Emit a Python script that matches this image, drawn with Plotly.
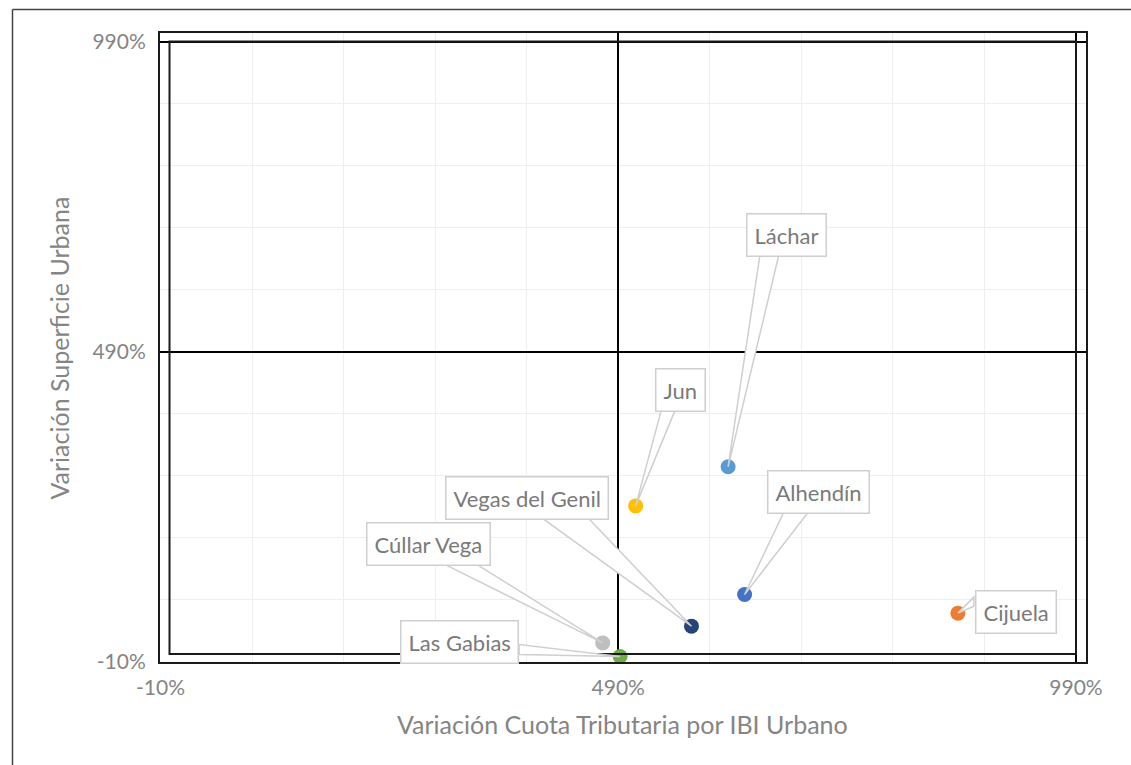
import plotly.graph_objects as go

# ---- data (percent values) ----
municipios = ["Jun", "Láchar", "Alhendín", "Vegas del Genil", "Cijuela", "Cúllar Vega", "Las Gabias"]
var_cuota = [509, 610, 628, 570, 861, 473, 492]          # x: Variación Cuota Tributaria por IBI Urbano (%)
var_superficie = [241, 304, 98, 47, 68, 20, -2]          # y: Variación Superficie Urbana (%)
colores = ["#FFC000", "#5B9BD5", "#4472C4", "#264478", "#ED7D31", "#BFBFBF", "#70AD47"]
tick_vals = [-10, 490, 990]
tick_text = ["-10%", "490%", "990%"]
x_title = "Variación Cuota Tributaria por IBI Urbano"
y_title = "Variación Superficie Urbana"

# ---- label callout layout (screen pixels relative to the point; y down) ----
callouts = {
    "Jun":             dict(box=(45, -116), base=[(26, -97), (40, -97)]),
    "Láchar":          dict(box=(58, -232), base=[(32, -213), (51, -213)]),
    "Alhendín":        dict(box=(74, -103), base=[(40, -84), (65, -84)]),
    "Vegas del Genil": dict(box=(-164, -128), base=[(-152, -110), (-105, -110)]),
    "Cijuela":         dict(box=(58, -1), base=[(16, -16), (16, -7)]),
    "Cúllar Vega":     dict(box=(-174, -99), base=[(-163, -81), (-130, -81)]),
    "Las Gabias":      dict(box=(-161, -15), base=[(-101, -12), (-101, -2)]),
}

FONT = "Lato, 'Open Sans', sans-serif"
GRAY_TXT = "#858585"
LABEL_TXT = "#7A7A7A"
FRAME = "#1A1A1A"

W, H = 1131, 765
ML, MR, MT, MB = 160, 45, 33, 103
PW, PH = W - ML - MR, H - MT - MB

x_px_per_unit = 915.5 / 1000
y_px_per_unit = 620 / 1000
x_min = -10 - 0.5 / x_px_per_unit
x_max = x_min + PW / x_px_per_unit
y_min = -10 - 0.5 / y_px_per_unit
y_max = y_min + PH / y_px_per_unit

fig = go.Figure()
fig.add_trace(go.Scatter(
    x=var_cuota, y=var_superficie, mode="markers",
    marker=dict(size=15, color=colores, line=dict(width=0)),
    text=municipios, hoverinfo="text", showlegend=False,
))

shapes = []
annotations = []

def px_x(px):
    return (px - ML) / PW

def px_y(py):
    return (H - MB - py) / PH

# inner frame
shapes.append(dict(type="rect", xref="paper", yref="paper",
                   x0=px_x(169.5), x1=px_x(1076), y0=px_y(654), y1=px_y(41.5),
                   line=dict(color=FRAME, width=2), layer="above"))
# outer image frame (left and top edges)
shapes.append(dict(type="line", xref="paper", yref="paper", x0=px_x(12.5), x1=px_x(12.5),
                   y0=px_y(9.5), y1=px_y(800), line=dict(color="#444444", width=1.5)))
shapes.append(dict(type="line", xref="paper", yref="paper", x0=px_x(12.5), x1=px_x(1200),
                   y0=px_y(9.5), y1=px_y(9.5), line=dict(color="#444444", width=1.5)))

for name, xv, yv in zip(municipios, var_cuota, var_superficie):
    c = callouts[name]
    (b1x, b1y), (b2x, b2y) = c["base"]
    path = f"M 0 0 L {b1x} {-b1y} L {b2x} {-b2y} Z"
    shapes.append(dict(type="path", xref="x", yref="y", xsizemode="pixel", ysizemode="pixel",
                       xanchor=xv, yanchor=yv, path=path,
                       fillcolor="white", line=dict(color="#CFCFCF", width=1.5), layer="above"))
    bx, by = c["box"]
    annotations.append(dict(x=xv, y=yv, xref="x", yref="y", text=name, showarrow=False,
                            xanchor="center", yanchor="middle", xshift=bx, yshift=-by,
                            font=dict(family=FONT, size=22, color=LABEL_TXT),
                            bgcolor="white", bordercolor="#CFCFCF", borderwidth=1.5, borderpad=7))

# axis titles
annotations.append(dict(x=px_x(622), y=px_y(724), xref="paper", yref="paper", text=x_title,
                        showarrow=False, xanchor="center", yanchor="middle",
                        font=dict(family=FONT, size=25, color=GRAY_TXT)))
annotations.append(dict(x=px_x(58.5), y=px_y(348), xref="paper", yref="paper", text=y_title,
                        showarrow=False, xanchor="center", yanchor="middle", textangle=-90,
                        font=dict(family=FONT, size=25, color=GRAY_TXT)))

# major gridlines (at -10, 490, 990) act as the black quadrant lines
axis_common = dict(
    showgrid=True, gridcolor="#000000", gridwidth=2,
    zeroline=False, showline=True, mirror=True,
    linecolor=FRAME, linewidth=2, ticks="",
    tickvals=tick_vals, ticktext=tick_text,
    tickfont=dict(family=FONT, size=21, color=GRAY_TXT),
)

fig.update_layout(
    width=W, height=H,
    margin=dict(l=ML, r=MR, t=MT, b=MB),
    paper_bgcolor="white", plot_bgcolor="white",
    xaxis=dict(range=[x_min, x_max],
               minor=dict(tick0=-10, dtick=100, showgrid=True, gridcolor="#EEEEEE", gridwidth=1),
               ticklabelstandoff=6, **axis_common),
    yaxis=dict(range=[y_min, y_max],
               minor=dict(tick0=-10, dtick=100, showgrid=True, gridcolor="#EEEEEE", gridwidth=1),
               ticklabelstandoff=8, **axis_common),
    shapes=shapes, annotations=annotations,
    font=dict(family=FONT),
)

fig.write_html("out.html", config={"displayModeBar": False},
               post_script="document.body.style.margin='0px';")
